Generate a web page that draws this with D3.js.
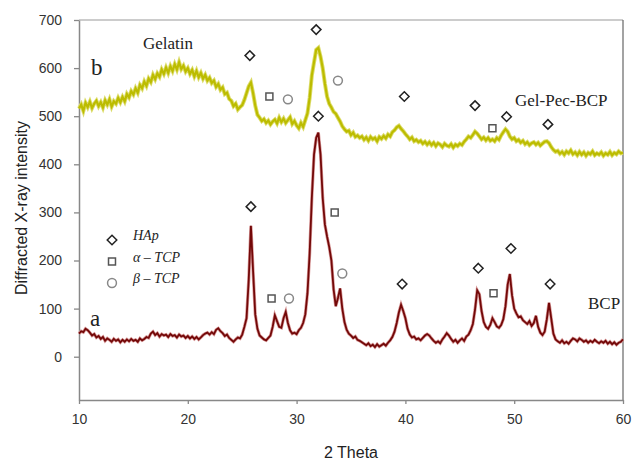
<!DOCTYPE html>
<html>
<head>
<meta charset="utf-8">
<script src="https://cdn.jsdelivr.net/npm/d3@7"></script>
<style>
  body { margin: 0; background: #fff; }
  svg { display: block; }
</style>
</head>
<body>
<svg id="chart" width="632" height="462"></svg>
<script>
// 2 theta sampled every 0.2 deg from 10 to 60
const thetaStart = 10, thetaStep = 0.2;

// curve b, Gel-Pec-BCP
const gelPecBcp = [
  516, 524, 511, 528, 519, 530, 517, 526, 532, 521,
  529, 518, 533, 524, 535, 520, 531, 526, 538, 529,
  540, 531, 546, 539, 552, 545, 558, 549, 565, 558,
  572, 563, 578, 571, 586, 577, 589, 582, 597, 588,
  601, 590, 604, 594, 608, 597, 612, 598, 605, 593,
  600, 588, 596, 583, 594, 581, 590, 578, 586, 574,
  580, 569, 574, 561, 567, 555, 560, 546, 549, 536,
  532, 521, 526, 514, 519, 523, 534, 548, 562, 570,
  548, 522, 503, 497, 490, 494, 486, 491, 483, 489,
  493, 485, 497, 488, 495, 486, 492, 498, 484, 490,
  481, 475, 486, 478, 492, 506, 538, 585, 612, 638,
  642, 624, 600, 568, 541, 526, 518, 509, 505, 497,
  489, 479, 473, 468, 470, 461, 466, 457, 460, 455,
  458, 451, 456, 449, 457, 452, 455, 448, 457, 453,
  459, 454, 462, 458, 467, 471, 477, 480, 474, 469,
  463, 458, 452, 456, 448, 451, 446, 449, 443, 447,
  441, 446, 440, 445, 438, 444, 441, 436, 443, 439,
  437, 442, 435, 441, 438, 443, 440, 447, 452, 458,
  455, 461, 468, 464, 458, 452, 456, 450, 455, 449,
  452, 448, 455, 451, 460, 467, 473, 468, 458, 452,
  455, 448, 451, 445, 449, 442, 446, 440, 444, 446,
  441, 445, 439, 443, 447, 448, 444, 436, 430, 426,
  428, 422, 426, 420, 427, 423, 429, 421, 425, 419,
  426, 420, 425, 418, 424, 421, 427, 419, 423, 420,
  425, 418, 423, 420, 426, 419, 424, 421, 427, 423,
  424
];

// curve a, BCP
const bcp = [
  48, 53, 51, 58, 55, 50, 44, 47, 40, 43,
  37, 41, 33, 38, 35, 31, 37, 33, 36, 30,
  35, 31, 36, 32, 37, 33, 35, 31, 38, 34,
  37, 41, 39, 48, 52, 45, 49, 42, 47, 44,
  46, 41, 47, 43, 45, 40, 46, 42, 44, 39,
  43, 38, 42, 37, 41, 36, 40, 45, 48, 50,
  46, 51, 47, 56, 59, 53, 49, 43, 46, 39,
  35, 31, 36, 40, 38, 46, 62, 80, 160, 272,
  178, 88, 58, 44, 40, 36, 34, 39, 44, 62,
  86, 74, 62, 60, 80, 93, 70, 55, 48, 50,
  47, 55, 60, 70, 88, 132, 215, 330, 420, 455,
  466, 420, 330, 275, 250, 228, 200, 140, 105, 122,
  142, 100, 72, 56, 48, 44, 39, 42, 35, 33,
  30, 27, 24, 28, 22, 25, 20, 26, 21, 24,
  27, 23, 29, 34, 41, 52, 70, 92, 108, 95,
  80, 58, 46, 40, 42, 36, 38, 34, 39, 44,
  47, 44, 38, 33, 29, 32, 28, 36, 42, 49,
  44, 37, 31, 35, 29, 34, 38, 33, 42, 46,
  55, 68, 98, 138, 130, 95, 72, 62, 58, 66,
  80, 72, 63, 60, 66, 78, 105, 150, 172, 128,
  100, 90, 82, 84, 76, 72, 68, 74, 64, 70,
  85, 62, 50, 45, 52, 78, 112, 80, 48, 36,
  32, 29, 34, 28, 31, 27, 33, 38, 36, 32,
  38, 35, 31, 34, 29, 33, 30, 35, 31, 28,
  32, 29, 33, 27, 31, 26, 30, 25, 29, 31,
  36
];

// phase markers [2theta, intensity]
const hapMarks = [[25.7, 626], [31.8, 680], [39.9, 541], [46.4, 522], [49.3, 499], [53.1, 483],
                  [32.0, 500], [25.8, 312], [39.7, 151], [46.7, 184], [49.7, 225], [53.3, 151]];
const alphaTcpMarks = [[27.5, 541], [48.0, 475], [27.7, 121], [33.5, 300], [48.1, 132]];
const betaTcpMarks = [[29.2, 535], [33.8, 574], [29.3, 121], [34.2, 173]];

const xTicks = [10, 20, 30, 40, 50, 60];
const yTicks = [0, 100, 200, 300, 400, 500, 600, 700];

const svg = d3.select("#chart");
const margin = { top: 20, right: 9, bottom: 62, left: 79 };
const width = 632 - margin.left - margin.right;
const height = 462 - margin.top - margin.bottom;
const g = svg.append("g").attr("transform", `translate(${margin.left},${margin.top})`);

const x = d3.scaleLinear().domain([10, 60]).range([0, width]);
const y = d3.scaleLinear().domain([-90, 700]).range([height, 0]);

// frame
g.append("line").attr("x1", 0).attr("x2", width).attr("y1", 0).attr("y2", 0)
  .attr("stroke", "#999").attr("stroke-width", 1.2);
g.append("line").attr("x1", width).attr("x2", width).attr("y1", 0).attr("y2", height)
  .attr("stroke", "#666").attr("stroke-width", 1.2);

// axes
const xAxis = g.append("g").attr("transform", `translate(0,${height})`)
  .call(d3.axisBottom(x).tickValues(xTicks).tickSize(4).tickPadding(10).tickSizeOuter(0));
const yAxis = g.append("g")
  .call(d3.axisLeft(y).tickValues(yTicks).tickSize(5).tickPadding(12).tickSizeOuter(0));
[xAxis, yAxis].forEach(a => {
  a.select(".domain").attr("stroke", "#888").attr("stroke-width", 1.5);
  a.selectAll(".tick line").attr("stroke", "#888").attr("stroke-width", 1.3);
  a.selectAll("text").attr("fill", "#333").style("font-family", "Liberation Sans, Arial, sans-serif")
    .style("font-size", "14px");
});

// curves
const line = d3.line()
  .x((d, i) => x(thetaStart + i * thetaStep))
  .y(d => y(d));

g.append("path").datum(gelPecBcp).attr("d", line)
  .attr("fill", "none").attr("stroke", "#dcdc6a").attr("stroke-width", 4);
g.append("path").datum(gelPecBcp).attr("d", line)
  .attr("fill", "none").attr("stroke", "#bcbc00").attr("stroke-width", 2.2);

g.append("path").datum(bcp).attr("d", line)
  .attr("fill", "none").attr("stroke", "#d89a9a").attr("stroke-width", 3.2);
g.append("path").datum(bcp).attr("d", line)
  .attr("fill", "none").attr("stroke", "#730808").attr("stroke-width", 1.8);

// markers
const diamond = d3.symbol().type(d3.symbolDiamond2).size(58);
const square = d3.symbol().type(d3.symbolSquare2).size(62);
const circle = d3.symbol().type(d3.symbolCircle).size(62);

function marks(data, sym, color) {
  g.selectAll(null).data(data).enter().append("path")
    .attr("d", sym)
    .attr("transform", d => `translate(${x(d[0])},${y(d[1])})`)
    .attr("fill", "none").attr("stroke", color).attr("stroke-width", 1.5);
}
marks(hapMarks, diamond, "#222");
marks(alphaTcpMarks, square, "#555");
marks(betaTcpMarks, circle, "#888");

// legend
const legend = svg.append("g").attr("transform", "translate(112,240)");
const legendItems = [
  { sym: diamond, color: "#222", label: "HAp" },
  { sym: square, color: "#555", label: "\u03b1 \u2013 TCP" },
  { sym: circle, color: "#888", label: "\u03b2 \u2013 TCP" }
];
legendItems.forEach((d, i) => {
  const row = legend.append("g").attr("transform", `translate(0,${i * 21.5})`);
  row.append("path").attr("d", d.sym).attr("fill", "none")
    .attr("stroke", d.color).attr("stroke-width", 1.5);
  row.append("text").attr("x", 21).attr("y", 0)
    .style("font-family", "Liberation Serif, Times New Roman, serif")
    .style("font-style", "italic").style("font-size", "14px").attr("fill", "#222")
    .text(d.label);
});

// annotations
const serif = "Liberation Serif, Times New Roman, serif";
const notes = [
  { t: "Gelatin", x: 143, y: 49, s: 17 },
  { t: "b", x: 91, y: 75, s: 23 },
  { t: "Gel-Pec-BCP", x: 515, y: 106, s: 17 },
  { t: "BCP", x: 588, y: 309, s: 17 },
  { t: "a", x: 90, y: 326, s: 23 }
];
notes.forEach(n => {
  svg.append("text").attr("x", n.x).attr("y", n.y)
    .style("font-family", serif).style("font-size", n.s + "px").attr("fill", "#222").text(n.t);
});

// axis titles
svg.append("text").attr("x", 351).attr("y", 458).attr("text-anchor", "middle")
  .style("font-family", "Liberation Sans, Arial, sans-serif").style("font-size", "16px")
  .attr("fill", "#222").text("2 Theta");
svg.append("text").attr("transform", "translate(27,208) rotate(-90)").attr("text-anchor", "middle")
  .style("font-family", "Liberation Sans, Arial, sans-serif").style("font-size", "16px")
  .attr("fill", "#222").text("Diffracted X-ray intensity");
</script>
</body>
</html>
